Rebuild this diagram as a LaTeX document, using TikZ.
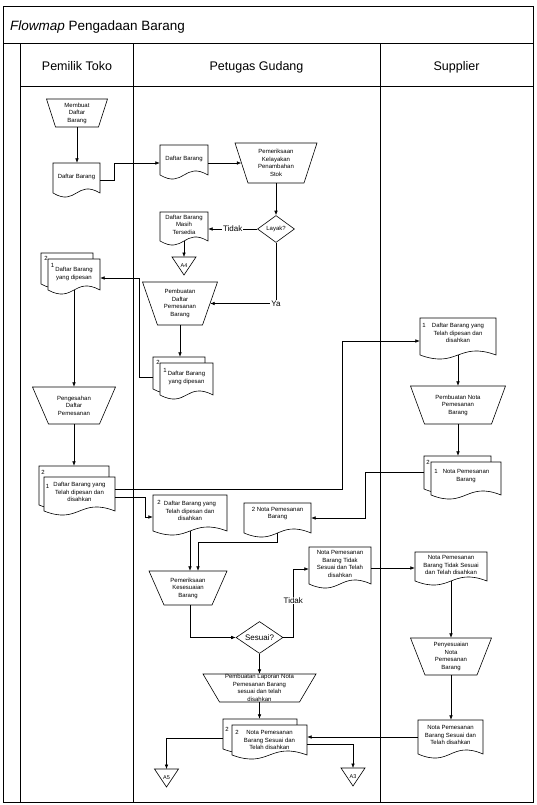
\documentclass[tikz,border=0pt]{standalone}
\usepackage{fontspec}
\setmainfont{Liberation Sans}
\usetikzlibrary{arrows.meta,shapes.geometric,calc}
\tikzset{
  shp/.style={draw, line width=0.6pt, fill=white},
  txt/.style={inner sep=0pt, align=center, font=\fontsize{6}{7.5}\selectfont},
  arr/.style={draw, line width=0.6pt, -{Latex[length=4.5pt,width=3.6pt]}},
  lbl/.style={fill=white, inner sep=1pt, font=\fontsize{8}{9}\selectfont},
  frm/.style={line width=1pt},
  hdr/.style={anchor=base, font=\fontsize{12.5}{14}\selectfont}
}
% manual operation: name cx cy wtop wbottom h text
\newcommand\manop[7]{%
  \draw[shp] ({#2-#4/2},{#3-#6/2}) -- ({#2+#4/2},{#3-#6/2}) -- ({#2+#5/2},{#3+#6/2}) -- ({#2-#5/2},{#3+#6/2}) -- cycle;
  \node[inner sep=0pt, minimum width={(#4+#5)/2}, minimum height={#6}] (#1) at (#2,#3) {};
  \node[txt] (#1t) at (#2,#3) {#7};
}
% document: name x1 y1 x2 y2(baseline) textcentre-y text
\newcommand\docu[7]{%
  \draw[shp] (#2,#3) -- (#4,#3) -- (#4,#5) .. controls +({-(#4-#2)/2},-14) and +({(#4-#2)/2},14) .. (#2,#5) -- cycle;
  \node[inner sep=0pt, minimum width={#4-#2}, minimum height={#5-#3}] (#1) at ({(#2+#4)/2},{(#3+#5)/2}) {};
  \node[txt] (#1t) at ({(#2+#4)/2},#6) {#7};
}
% off-page connector: name cx ytop text
\newcommand\offp[4]{%
  \draw[shp] ({#2-12},#3) -- ({#2+12},#3) -- (#2,{#3+18}) -- cycle;
  \node[txt, font=\fontsize{5.5}{6}\selectfont, minimum width=24pt, minimum height=16pt, anchor=north] (#1) at (#2,#3) {#4};
}
\begin{document}
\begin{tikzpicture}[x=1pt,y=-1pt]
\useasboundingbox (0,0) rectangle (537,805);
% frame
\draw[frm] (3,6.5) rectangle (533,802);
\draw[frm] (3,44) -- (533,44);
\draw[frm] (20,44) -- (20,802);
\draw[frm] (133,44) -- (133,802);
\draw[frm] (380,44) -- (380,802);
\draw[frm] (20,87) -- (533,87);
\node[anchor=base west, font=\fontsize{13.5}{16}\selectfont] (title) at (6.5,30.5) {\textit{Flowmap} Pengadaan Barang};
\node[hdr] (h1) at (77,70.5) {Pemilik Toko};
\node[hdr] (h2) at (256.5,70.5) {Petugas Gudang};
\node[hdr] (h3) at (456.5,70.5) {Supplier};

% Pemilik Toko
\manop{mb}{77}{113}{61}{43}{28}{Membuat\\Daftar\\Barang}
\docu{db1}{53}{163}{100}{193}{177}{Daftar Barang}
\docu{p1b}{41}{253}{93}{284}{268}{}
\docu{p1}{48}{259}{100}{290}{274}{Daftar Barang\\yang dipesan}
\node[txt] (p1bn) at (46,258) {2};
\node[txt] (p1n) at (52.5,265) {1};
\manop{ps}{74}{405.5}{83}{51}{37}{Pengesahan\\Daftar\\Pemesanan}
\docu{p2b}{39}{466}{109}{505}{485}{}
\docu{p2}{44}{477}{115}{511}{492}{Daftar Barang yang\\Telah dipesan dan\\disahkan}
\node[txt] (p2bn) at (43,472) {2};
\node[txt] (p2n) at (47.5,486) {1};

% Petugas Gudang
\docu{db2}{160}{145}{208}{175}{158.5}{Daftar Barang}
\manop{pk}{276}{163}{82}{56}{40}{Pemeriksaan\\Kelayakan\\Penambahan\\Stok}
\node[shp, diamond, aspect=1.5, minimum width=37pt, minimum height=27pt, inner sep=0pt, font=\fontsize{6}{7}\selectfont] (layak) at (276,229) {Layak?};
\docu{dbm}{160}{212}{208}{241}{224.5}{Daftar Barang\\Masih\\Tersedia}
\offp{a4}{184}{257}{A4}
\manop{pdp}{180}{303.5}{75}{45}{43}{Pembuatan\\Daftar\\Pemesanan\\Barang}
\docu{g1b}{153}{357}{205}{389}{373}{}
\docu{g1}{160}{363}{213}{395}{378}{Daftar Barang\\yang dipesan}
\node[txt] (g1bn) at (158,362) {2};
\node[txt] (g1n) at (165,370) {1};
\docu{g2}{153}{495}{227}{531}{511}{Daftar Barang yang\\Telah dipesan dan\\disahkan}
\node[txt] (g2n) at (159,502) {2};
\docu{g3}{244}{503}{311}{533}{513.5}{2 Nota Pemesanan\\Barang}
\manop{pkb}{188}{588}{78}{48}{34}{Pemeriksaan\\Kesesuaian\\Barang}
\node[shp, diamond, aspect=1.5, minimum width=47pt, minimum height=32pt, inner sep=0pt, font=\fontsize{8}{9}\selectfont] (sesuai) at (259.5,637.5) {Sesuai?};
\docu{g4}{309}{547}{371}{584}{564}{Nota Pemesanan\\Barang Tidak\\Sesuai dan Telah\\disahkan}
\manop{plp}{259.5}{688}{113}{80}{28}{Pembuatan Laporan Nota\\Pemesanan Barang\\sesuai dan telah\\disahkan}
\docu{g5b}{223}{719}{297}{749}{734}{}
\docu{g5}{232}{725}{307}{755}{740}{Nota Pemesanan\\Barang Sesuai dan\\Telah disahkan}
\node[txt] (g5bn) at (227,729) {2};
\node[txt] (g5n) at (237,732) {2};
\offp{a5}{166.5}{769}{A5}
\offp{a3}{353}{768}{A3}

% Supplier
\docu{s1}{420}{318}{496}{355}{333}{Daftar Barang yang\\Telah dipesan dan\\disahkan}
\node[txt] (s1n) at (424,325) {1};
\manop{s2}{458}{405}{95}{67}{38}{Pembuatan Nota\\Pemesanan\\Barang}
\docu{s3b}{424}{456}{491}{489}{472}{}
\docu{s3}{431}{462}{501}{495}{476}{Nota Pemesanan\\Barang}
\node[txt] (s3bn) at (428,462) {2};
\node[txt] (s3n) at (436,471) {1};
\docu{s4}{415}{552}{487}{581}{565}{Nota Pemesanan\\Barang Tidak Sesuai\\dan Telah disahkan}
\manop{s5}{451}{656.5}{81}{52}{37}{Penyesuaian\\Nota\\Pemesanan\\Barang}
\docu{s6}{418}{720}{483}{754}{735}{Nota Pemesanan\\Barang Sesuai dan\\Telah disahkan}

% connectors
\draw[arr] (mb.south) -- (mb.south |- db1.north);
\draw[arr] ([yshift=-2pt]db1.east) -- ++(14,0) |- ([yshift=-3pt]db2.west);
\draw[arr] (db2.east |- pk.west) -- (pk.west);
\draw[arr] (pk.south) -- (layak.north);
\draw[arr] (layak.west) -- node[lbl]{Tidak} (layak.west -| dbm.east);
\draw[arr] (dbm.south) -- (a4.north);
\draw[arr] (layak.south) |- node[lbl, pos=0.5]{Ya} (pdp.east);
\draw[arr] (pdp.south) -- (pdp.south |- g1b.north);
\draw[arr] ([yshift=-4pt]g1b.west) -- ++(-14,0) |- ([yshift=-3.5pt]p1.east);
\draw[arr] (p1.south) -- (p1.south |- ps.north);
\draw[arr] (ps.south) -- (ps.south |- p2b.north);
\draw[arr] ([yshift=5pt]p2.east) -- ++(227,0) |- ([yshift=-4.5pt]s1.west);
\draw[arr] ([yshift=-3pt]p2.east) -- ++(30,0) |- ([yshift=-4pt]g2.west);
\draw[arr] (s1.south) -- (s1.south |- s2.north);
\draw[arr] (s2.south) -- (s2.south |- s3b.north);
\draw[arr] (s3b.west) -- ++(-59,0) |- (g3.east);
\draw[arr] (g2.south) -- (g2.south |- pkb.north);
\coordinate (j1) at (198,542);
\draw[arr] (g3.south) |- (j1) -- (j1 |- pkb.north);
\draw[arr] ([xshift=2pt]pkb.south) |- (sesuai.west);
\draw[arr] (sesuai.east) -- ++(10,0) |- node[lbl, pos=0.27]{Tidak} ([yshift=-3.5pt]g4.west);
\draw[arr] ([yshift=-2.5pt]g4.east) -- ([yshift=-2.5pt]g4.east -| s4.west);
\draw[arr] (s4.south) -- (s4.south |- s5.north);
\draw[arr] (s5.south) -- (s5.south |- s6.north);
\draw[arr] (s6.west) -- (s6.west -| g5.east);
\draw[arr] (sesuai.south) -- (sesuai.south |- plp.north);
\draw[arr] (plp.south) -- (plp.south |- g5b.north);
\draw[arr] ([yshift=-4pt]g5b.west) -| (a5.north);
\draw[arr] ([yshift=-4pt]g5.east) -| (a3.north);
\end{tikzpicture}
\end{document}
